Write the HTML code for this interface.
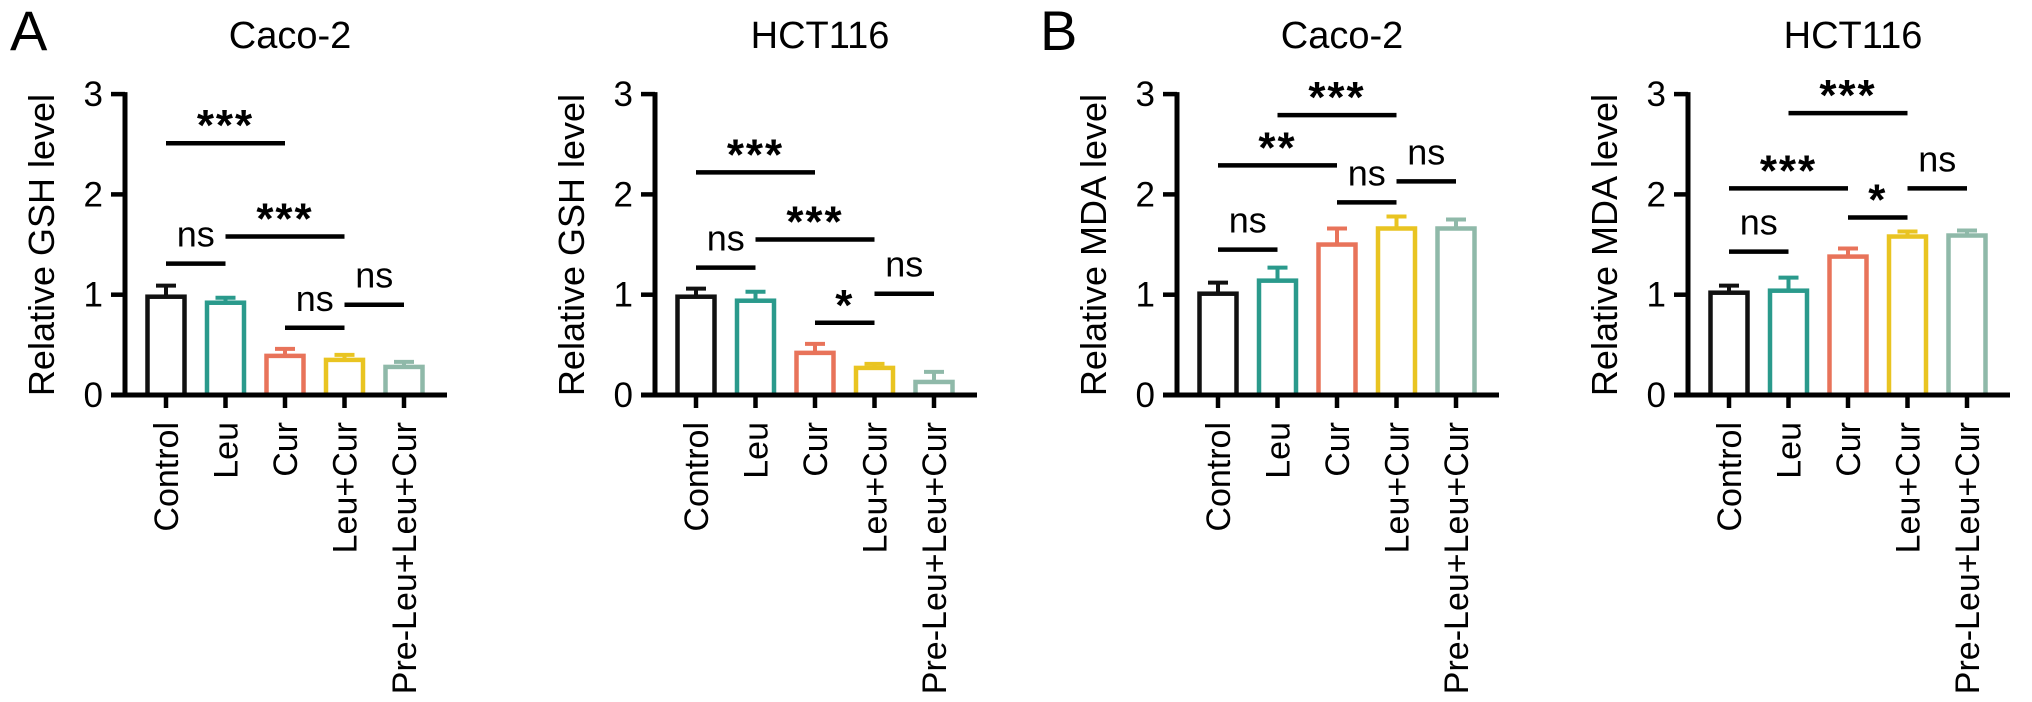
<!DOCTYPE html>
<html><head><meta charset="utf-8">
<style>
html,body{margin:0;padding:0;background:#fff;}
svg{display:block;font-family:"Liberation Sans",Arial,sans-serif;}
</style></head>
<body>
<svg id="fig" width="2032" height="702" viewBox="0 0 2032 702" xmlns="http://www.w3.org/2000/svg">
<text x="10" y="50" font-size="56">A</text>
<text x="1040" y="50" font-size="56">B</text>
</svg>
<script>
const categories = ["Control","Leu","Cur","Leu+Cur","Pre-Leu+Leu+Cur"];
const colors = ["#111111","#2a9a8c","#e8735a","#e9c421","#8fb9a9"];
const yTicks = [0,1,2,3];
const titles = ["Caco-2","HCT116","Caco-2","HCT116"];
const yTitles = ["Relative GSH level","Relative GSH level","Relative MDA level","Relative MDA level"];
const axisX = [125,655,1177,1688];
const gshCaco = [0.98,0.92,0.39,0.35,0.28];
const gshCacoErr = [0.11,0.05,0.07,0.05,0.05];
const gshHct = [0.98,0.94,0.42,0.27,0.13];
const gshHctErr = [0.08,0.09,0.09,0.04,0.10];
const mdaCaco = [1.01,1.14,1.50,1.66,1.66];
const mdaCacoErr = [0.11,0.13,0.16,0.12,0.09];
const mdaHct = [1.02,1.04,1.38,1.58,1.59];
const mdaHctErr = [0.07,0.13,0.08,0.05,0.05];
const sigGshCaco = [[0,2,"***",2.51],[0,1,"ns",1.31],[1,3,"***",1.58],[2,3,"ns",0.67],[3,4,"ns",0.90]];
const sigGshHct = [[0,2,"***",2.22],[0,1,"ns",1.27],[1,3,"***",1.55],[2,3,"*",0.72],[3,4,"ns",1.01]];
const sigMdaCaco = [[1,3,"***",2.79],[0,2,"**",2.29],[0,1,"ns",1.45],[2,3,"ns",1.92],[3,4,"ns",2.13]];
const sigMdaHct = [[1,3,"***",2.81],[0,2,"***",2.06],[0,1,"ns",1.43],[2,3,"*",1.77],[3,4,"ns",2.06]];

const panels = [
  {vals:gshCaco, err:gshCacoErr, sig:sigGshCaco},
  {vals:gshHct, err:gshHctErr, sig:sigGshHct},
  {vals:mdaCaco, err:mdaCacoErr, sig:sigMdaCaco},
  {vals:mdaHct, err:mdaHctErr, sig:sigMdaHct}
];
const NS="http://www.w3.org/2000/svg";
const svg=document.getElementById("fig");
const Y0=395, UNIT=100.3, BW=37, STEP=59.5, AXLEN=322;
function yS(v){return Y0 - v*UNIT;}
function mk(tag,attrs,parent){const e=document.createElementNS(NS,tag);for(const k in attrs)e.setAttribute(k,attrs[k]);(parent||svg).appendChild(e);return e;}

panels.forEach((p,pi)=>{
  const ax=axisX[pi];
  const xS=i=>ax+41+i*STEP;
  const g=mk("g",{});
  
  
  const t=mk("text",{x:ax+165,y:48,"font-size":38,"text-anchor":"middle"},g);
  t.textContent=titles[pi];
  
  
  const yt=mk("text",{x:0,y:0,"font-size":36,"text-anchor":"middle",transform:`translate(${ax-71},245) rotate(-90)`},g);
  yt.textContent=yTitles[pi];
  
  
  p.vals.forEach((v,i)=>{
    const cx=xS(i), top=yS(v), et=yS(v+p.err[i]);
    const eb=mk("line",{x1:cx,y1:top,x2:cx,y2:et,stroke:colors[i],"stroke-width":4},g);
    
    
    const ec=mk("line",{x1:cx-10,y1:et,x2:cx+10,y2:et,stroke:colors[i],"stroke-width":4},g);
    
    
    const r=mk("rect",{x:cx-BW/2,y:top,width:BW,height:Y0-top,fill:"#fff",stroke:colors[i],"stroke-width":4.5},g);
    
    
    const tk=mk("line",{x1:cx,y1:Y0,x2:cx,y2:Y0+13,stroke:"#000","stroke-width":4.5},g);
    
    
    const lb=mk("text",{x:0,y:0,"font-size":34,"text-anchor":"end",transform:`translate(${cx+12},422) rotate(-90)`},g);
    lb.textContent=categories[i];
    
    
  });
  const ya=mk("line",{x1:ax,y1:yS(3)-2,x2:ax,y2:Y0+2.5,stroke:"#000","stroke-width":5},g);
  
  
  const xa=mk("line",{x1:ax-14,y1:Y0,x2:ax+AXLEN,y2:Y0,stroke:"#000","stroke-width":5},g);
  
  
  yTicks.forEach(v=>{
    const l=mk("line",{x1:ax-14,y1:yS(v),x2:ax,y2:yS(v),stroke:"#000","stroke-width":4.5},g);
    
    
    const tl=mk("text",{x:ax-22,y:yS(v)+12,"font-size":35,"text-anchor":"end"},g);
    tl.textContent=String(v);
    
    
  });
  p.sig.forEach(s=>{
    const x1=xS(s[0]), x2=xS(s[1]), ly=yS(s[3]);
    const l=mk("line",{x1:x1,y1:ly,x2:x2,y2:ly,stroke:"#000","stroke-width":4.5},g);
    
    
    const isStar=s[2].indexOf("*")>=0;
    const st=mk("text",{x:(x1+x2)/2,y:isStar?ly-3:ly-17,"font-size":isStar?44:36,"font-weight":isStar?"bold":"normal","text-anchor":"middle","letter-spacing":isStar?"2":"0"},g);
    st.textContent=s[2];
    
    
  });
});
</script>
</body></html>
